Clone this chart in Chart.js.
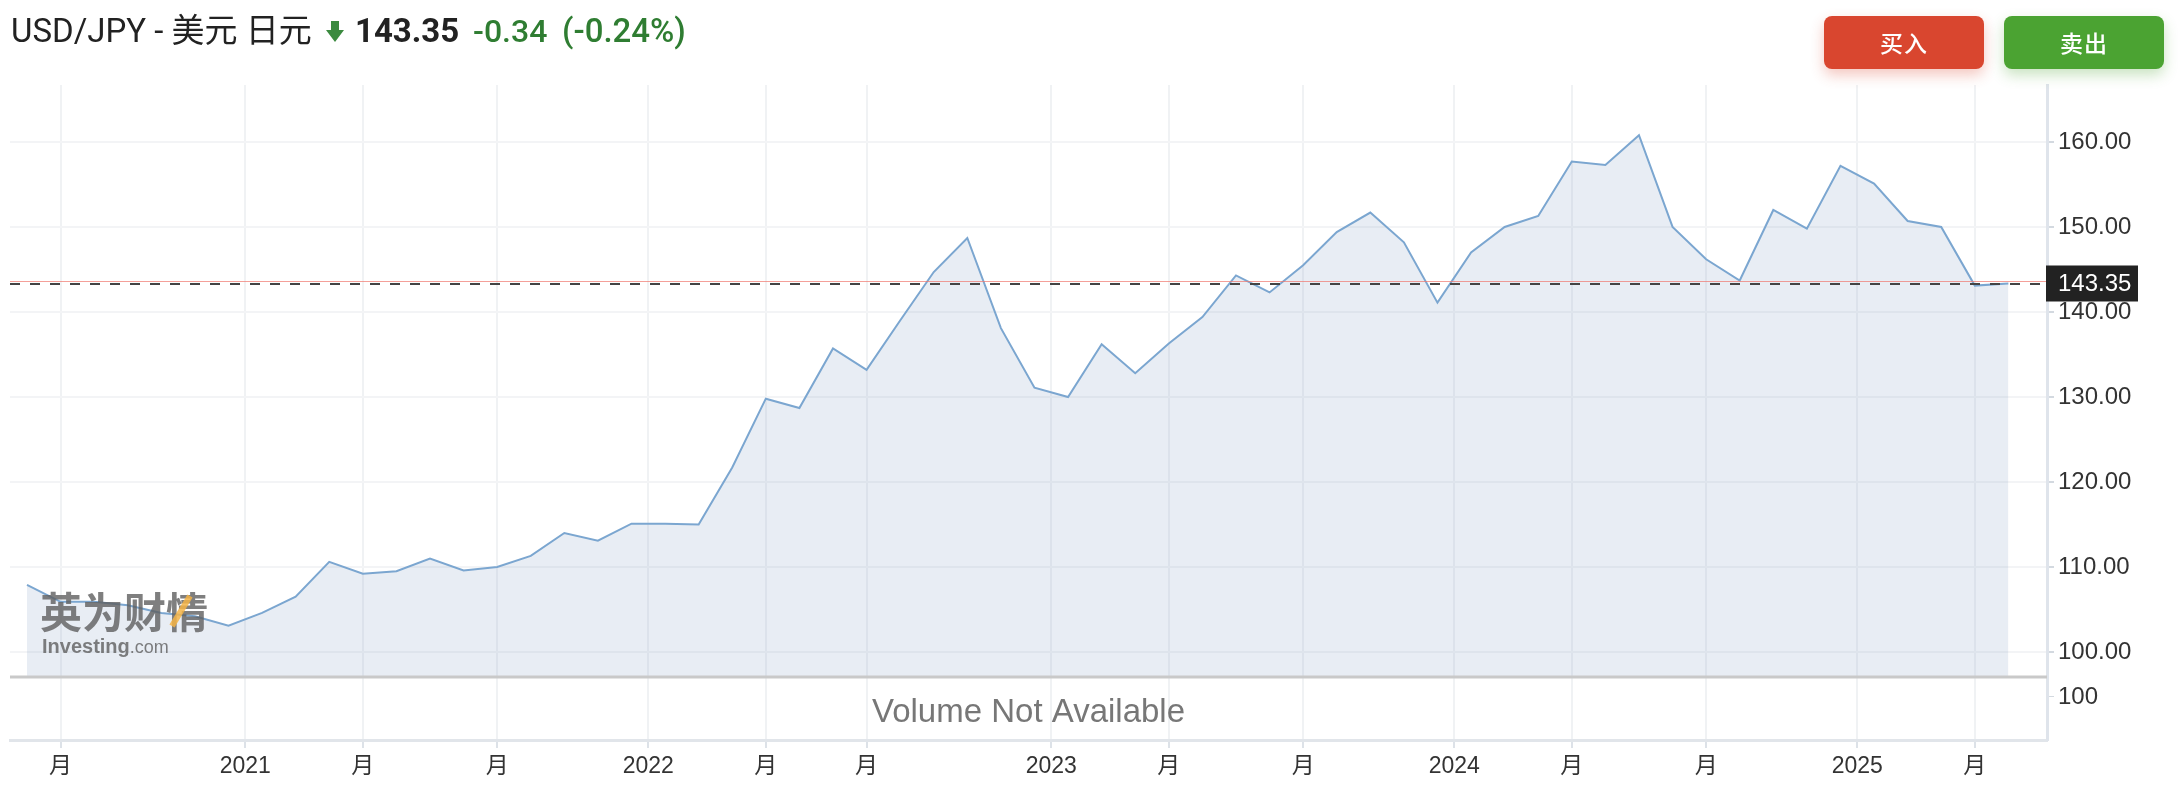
<!DOCTYPE html>
<html>
<head>
<meta charset="utf-8">
<title>USD/JPY</title>
<script src="https://cdn.jsdelivr.net/npm/chart.js@4"></script>
<style>
body { margin: 0; background: #fff; width: 2180px; height: 800px; overflow: hidden; position: relative;
       font-family: Roboto, "Noto Sans CJK SC", sans-serif; }
#chart { position: absolute; left: 0; top: 0; }
.hd { position: absolute; top: 11px; font-size: 33px; line-height: 40px; white-space: nowrap; z-index: 2; }
.btn { position: absolute; top: 16px; width: 160px; height: 53px; line-height: 53px; border-radius: 8px;
       color: #fff; font-size: 23px; font-weight: 500; text-align: center; letter-spacing: 1px;
       font-family: "Noto Sans CJK SC", sans-serif; z-index: 2; }
</style>
</head>
<body>
<div class="hd" style="left:11px;color:#222">USD/JPY - 美元 日元</div>
<svg style="position:absolute;left:326px;top:21px;z-index:2" width="18" height="21">
  <polygon points="5,0 13,0 13,9 18,9 9,21 0,9 5,9" fill="#3b8a3f"/>
</svg>
<div class="hd" style="left:355px;font-weight:700;color:#222">143.35</div>
<div class="hd" style="left:473px;font-weight:500;color:#2f7d32;font-size:32px">-0.34</div>
<div class="hd" style="left:562px;font-weight:500;color:#2f7d32">(-0.24%)</div>
<div class="btn" style="left:1824px;background:#d9462f;box-shadow:0 6px 14px rgba(217,70,47,0.3)">买入</div>
<div class="btn" style="left:2004px;background:#4ba332;box-shadow:0 6px 14px rgba(75,163,50,0.3)">卖出</div>

<canvas id="chart" width="2180" height="800"></canvas>

<script>
// monthly closes, Jun 2020 .. May 2025
var months = [
  '2020-06','2020-07','2020-08','2020-09','2020-10','2020-11','2020-12',
  '2021-01','2021-02','2021-03','2021-04','2021-05','2021-06','2021-07','2021-08','2021-09','2021-10','2021-11','2021-12',
  '2022-01','2022-02','2022-03','2022-04','2022-05','2022-06','2022-07','2022-08','2022-09','2022-10','2022-11','2022-12',
  '2023-01','2023-02','2023-03','2023-04','2023-05','2023-06','2023-07','2023-08','2023-09','2023-10','2023-11','2023-12',
  '2024-01','2024-02','2024-03','2024-04','2024-05','2024-06','2024-07','2024-08','2024-09','2024-10','2024-11','2024-12',
  '2025-01','2025-02','2025-03','2025-04','2025-05'
];
var prices = [
  107.9, 105.9, 105.9, 105.5, 104.6, 104.2, 103.1,
  104.6, 106.5, 110.6, 109.2, 109.5, 111.0, 109.6, 110.0, 111.3, 114.0, 113.1, 115.1,
  115.1, 115.0, 121.7, 129.8, 128.7, 135.7, 133.2, 139.0, 144.7, 148.7, 138.1, 131.1,
  130.0, 136.2, 132.8, 136.3, 139.4, 144.3, 142.3, 145.5, 149.4, 151.7, 148.2, 141.1,
  147.0, 150.0, 151.3, 157.7, 157.3, 160.8, 150.0, 146.2, 143.7, 152.0, 149.8, 157.2,
  155.1, 150.7, 150.0, 143.1, 143.35
];
var lastPrice = 143.35;

// x tick positions are in month-index units
var xTickPos = [1, 6.5, 10, 14, 18.5, 22, 25, 30.5, 34, 38, 42.5, 46, 50, 54.5, 58];
var xTickLabels = ['月', '2021', '月', '月', '2022', '月', '月', '2023', '月', '月', '2024', '月', '月', '2025', '月'];
var yTicks = [100, 110, 120, 130, 140, 150, 160];
var volTicks = [100];

var points = prices.map(function (p, i) { return { x: i, y: p }; });

var axisFont = { family: '"Liberation Sans", Arial, "Noto Sans CJK SC", sans-serif', size: 24 };

var overlay = {
  id: 'overlay',
  afterDatasetsDraw: function (chart) {
    var ctx = chart.ctx;
    var a = chart.chartArea;
    var ys = chart.scales.y;
    var vs = chart.scales.yv;
    var py = ys.getPixelForValue(lastPrice);
    ctx.save();

    // separator between price and volume panes
    ctx.strokeStyle = '#c9c9c9';
    ctx.lineWidth = 3;
    ctx.beginPath();
    ctx.moveTo(a.left, ys.bottom);
    ctx.lineTo(a.right, ys.bottom);
    ctx.stroke();

    // last price lines
    ctx.strokeStyle = 'rgba(240,120,110,0.7)';
    ctx.lineWidth = 1.2;
    ctx.beginPath();
    ctx.moveTo(a.left, py - 2);
    ctx.lineTo(a.right, py - 2);
    ctx.stroke();

    ctx.strokeStyle = '#444';
    ctx.lineWidth = 2;
    ctx.setLineDash([10, 10]);
    ctx.beginPath();
    ctx.moveTo(a.left, py + 0.5);
    ctx.lineTo(a.right, py + 0.5);
    ctx.stroke();
    ctx.setLineDash([]);

    // volume pane text
    ctx.fillStyle = '#777';
    ctx.font = '33px "Liberation Sans", Arial, sans-serif';
    ctx.textAlign = 'center';
    ctx.textBaseline = 'middle';
    ctx.fillText('Volume Not Available', (a.left + a.right) / 2, (vs.top + vs.bottom) / 2 + 4);

    // watermark logo
    ctx.textAlign = 'left';
    ctx.textBaseline = 'alphabetic';
    ctx.fillStyle = 'rgba(95,95,95,0.8)';
    ctx.font = 'bold 42px "Noto Sans CJK SC", sans-serif';
    ctx.fillText('英为财情', 40, 628);
    ctx.strokeStyle = 'rgba(245,180,70,0.85)';
    ctx.lineWidth = 6;
    ctx.beginPath();
    ctx.moveTo(172, 626);
    ctx.lineTo(190, 596);
    ctx.stroke();
    ctx.fillStyle = 'rgba(95,95,95,0.8)';
    ctx.font = 'bold 20px "Liberation Sans Narrow", "Liberation Sans", Arial, sans-serif';
    ctx.fillText('Investing', 42, 653);
    var w = ctx.measureText('Investing').width;
    ctx.font = '18px "Liberation Sans Narrow", "Liberation Sans", Arial, sans-serif';
    ctx.fillText('.com', 42 + w, 653);
    ctx.restore();
  },
  afterDraw: function (chart) {
    var ctx = chart.ctx;
    var ys = chart.scales.y;
    var py = ys.getPixelForValue(lastPrice);
    ctx.save();
    ctx.fillStyle = '#222';
    ctx.fillRect(ys.left - 1, py - 18, 92, 36);
    ctx.fillStyle = '#fff';
    ctx.font = '24px "Liberation Sans", Arial, sans-serif';
    ctx.textBaseline = 'middle';
    ctx.fillText(lastPrice.toFixed(2), ys.left + 11, py + 1);
    ctx.restore();
  }
};

new Chart(document.getElementById('chart'), {
  type: 'line',
  data: {
    datasets: [{
      label: 'USD/JPY',
      data: points,
      borderColor: '#7ba6d0',
      borderWidth: 2,
      backgroundColor: 'rgba(140,165,200,0.2)',
      fill: 'start',
      pointRadius: 0,
      tension: 0,
      yAxisID: 'y'
    }]
  },
  options: {
    responsive: false,
    devicePixelRatio: 1,
    animation: false,
    layout: { padding: { top: 85, left: 10, right: 0, bottom: 0 } },
    plugins: {
      legend: { display: false },
      title: { display: false },
      tooltip: { enabled: false }
    },
    scales: {
      x: {
        type: 'linear',
        min: -0.506,
        max: 60.15,
        afterBuildTicks: function (scale) {
          scale.ticks = xTickPos.map(function (v) { return { value: v }; });
        },
        afterFit: function (scale) { scale.height = 60; },
        ticks: {
          autoSkip: false,
          maxRotation: 0,
          padding: 5,
          color: '#333',
          font: { family: axisFont.family, size: 23 },
          callback: function (v, i) { return xTickLabels[i]; }
        },
        grid: { color: '#f0f2f4', lineWidth: 2, tickLength: 8, tickColor: '#dde2e8' },
        border: { color: '#e1e5ea', width: 3 }
      },
      y: {
        position: 'right',
        stack: 'pane',
        stackWeight: 592,
        min: 97.06,
        max: 166.7,
        afterBuildTicks: function (scale) {
          scale.ticks = yTicks.map(function (v) { return { value: v }; });
        },
        afterFit: function (scale) { scale.width = 133; },
        ticks: {
          padding: 4,
          color: '#333',
          font: axisFont,
          callback: function (v) { return Number(v).toFixed(2); }
        },
        grid: { color: '#f3f4f6', lineWidth: 2, tickLength: 7, tickColor: '#d3d9e0' },
        border: { color: '#dfe4eb', width: 3 }
      },
      yv: {
        position: 'right',
        stack: 'pane',
        stackWeight: 63,
        min: 0,
        max: 146.4,
        afterBuildTicks: function (scale) {
          scale.ticks = volTicks.map(function (v) { return { value: v }; });
        },
        afterFit: function (scale) { scale.width = 133; },
        ticks: {
          padding: 4,
          color: '#333',
          font: axisFont,
          callback: function (v) { return String(v); }
        },
        grid: { drawOnChartArea: false, tickLength: 7, tickColor: '#d3d9e0' },
        border: { color: '#dfe4eb', width: 3 }
      }
    }
  },
  plugins: [overlay]
});
</script>
</body>
</html>
